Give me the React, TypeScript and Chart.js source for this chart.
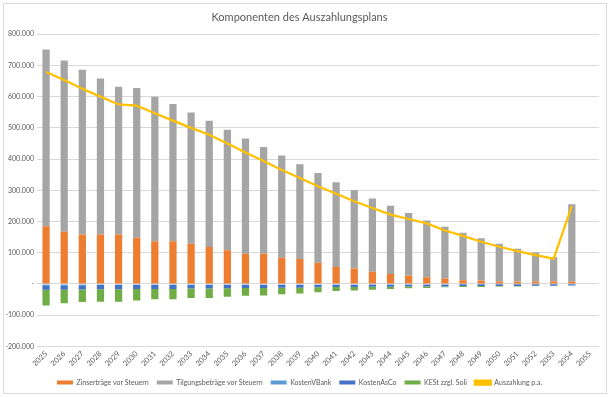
import React, { useEffect, useRef } from "react";
import { Chart, registerables } from "chart.js";

Chart.register(...registerables);

const years = [
  "2025", "2026", "2027", "2028", "2029", "2030", "2031", "2032", "2033", "2034",
  "2035", "2036", "2037", "2038", "2039", "2040", "2041", "2042", "2043", "2044",
  "2045", "2046", "2047", "2048", "2049", "2050", "2051", "2052", "2053", "2054", "2055",
];

const zinsertraege = [
  185000, 167000, 158000, 158000, 158000, 148000, 137000, 137000, 129000, 118000,
  108000, 97000, 97000, 84000, 80000, 68000, 54000, 49000, 39000, 32000,
  27000, 21000, 17000, 12000, 11000, 8000, 8000, 8000, 8000, 7000, null,
];

const tilgung = [
  566000, 549000, 528000, 500000, 474000, 480000, 463000, 439000, 420000, 405000,
  386000, 369000, 342000, 327000, 303000, 287000, 272000, 252000, 235000, 218000,
  200000, 182000, 166000, 152000, 135000, 121000, 105000, 93000, 78000, 248000, null,
];

const kostenVBank = [
  -4000, -4000, -4000, -3500, -3500, -3500, -3500, -3500, -3000, -3000,
  -3000, -3000, -3000, -2500, -2500, -2500, -2500, -2500, -2000, -2000,
  -2000, -2000, -2000, -1500, -1500, -1500, -1500, -1500, -1500, -1000, null,
];

const kostenAsCo = [
  -15000, -15000, -14000, -13500, -13500, -12500, -12500, -12500, -12000, -12000,
  -11000, -10000, -10000, -9500, -9500, -8500, -7500, -7500, -7000, -7000,
  -6000, -6000, -6000, -5500, -5500, -5500, -5500, -4500, -4500, -4000, null,
];

const kest = [
  -50000, -43000, -40000, -40000, -40000, -37000, -33000, -33000, -30000, -30000,
  -27000, -25000, -24000, -21000, -19000, -16000, -13000, -11000, -10000, -7000,
  -6000, -5000, -2500, -3000, -3000, -1000, -1000, -1000, -1000, -500, null,
];

const auszahlung = [
  679000, 653000, 625000, 600000, 575000, 571000, 547000, 523000, 500000, 478000,
  450000, 421000, 394000, 365000, 339000, 313000, 289000, 265000, 243000, 222000,
  208000, 194000, 171000, 154000, 135000, 119000, 105000, 92000, 81000, 249000, null,
];

const FONT = "Lato, 'Open Sans', sans-serif";
const TEXT = "#595959";

const borderPlugin = {
  id: "outerBorder",
  beforeDraw(chart: any) {
    const { ctx } = chart;
    ctx.save();
    ctx.fillStyle = "#ffffff";
    ctx.fillRect(0, 0, chart.width, chart.height);
    ctx.strokeStyle = "#d9d9d9";
    ctx.lineWidth = 1;
    ctx.strokeRect(3.5, 3.5, chart.width - 7, chart.height - 8);
    ctx.restore();
  },
};

export default function App() {
  const ref = useRef<HTMLCanvasElement | null>(null);

  useEffect(() => {
    document.body.style.margin = "0";
    const canvas = ref.current;
    if (!canvas) return;
    const chart = new Chart(canvas, {
      type: "bar",
      data: {
        labels: years,
        datasets: [
          { label: "Zinserträge vor Steuern", data: zinsertraege, backgroundColor: "#ED7D31" },
          { label: "Tilgungsbeträge vor Steuern", data: tilgung, backgroundColor: "#A5A5A5" },
          { label: "KostenVBank", data: kostenVBank, backgroundColor: "#5B9BD5" },
          { label: "KostenAsCo", data: kostenAsCo, backgroundColor: "#4472C4" },
          { label: "KESt zzgl. Soli", data: kest, backgroundColor: "#70AD47" },
          {
            type: "line",
            label: "Auszahlung p.a.",
            data: auszahlung,
            borderColor: "#FFC000",
            backgroundColor: "#FFC000",
            borderWidth: 2.25,
            pointRadius: 0,
            tension: 0,
            stack: "line",
            order: -1,
          } as any,
        ],
      },
      options: {
        animation: false,
        responsive: false,
        layout: { padding: { left: 0, right: 11, top: 0, bottom: 2 } },
        datasets: {
          bar: { barPercentage: 0.4, categoryPercentage: 1 },
        } as any,
        plugins: {
          title: {
            display: true,
            text: "Komponenten des Auszahlungsplans",
            color: TEXT,
            font: { family: FONT, size: 11, weight: "normal" },
            padding: { top: 11, bottom: 10 },
          },
          legend: {
            position: "bottom",
            labels: {
              color: TEXT,
              font: { family: FONT, size: 7 },
              boxWidth: 16,
              boxHeight: 4,
              padding: 8,
              sort: (a: any, b: any) => a.datasetIndex - b.datasetIndex,
            },
          },
          tooltip: { enabled: false },
        },
        scales: {
          x: {
            stacked: true,
            grid: { display: false, drawTicks: false },
            border: { display: false },
            ticks: {
              color: TEXT,
              font: { family: FONT, size: 7.5 },
              minRotation: 45,
              maxRotation: 45,
              autoSkip: false,
              padding: 3,
            },
          },
          y: {
            stacked: true,
            min: -200000,
            max: 800000,
            grid: { color: "#d9d9d9", drawTicks: false },
            border: { display: false },
            ticks: {
              stepSize: 100000,
              color: TEXT,
              font: { family: FONT, size: 7 },
              padding: 3,
              callback: (v: any) => (v === 0 ? "-" : Number(v).toLocaleString("de-DE")),
            },
            afterFit: (scale: any) => {
              scale.width = 37;
            },
          },
        },
      },
      plugins: [borderPlugin],
    });
    return () => chart.destroy();
  }, []);

  return (
    <div style={{ width: 610, height: 398 }}>
      <canvas ref={ref} width={610} height={398} style={{ display: "block" }} />
    </div>
  );
}
